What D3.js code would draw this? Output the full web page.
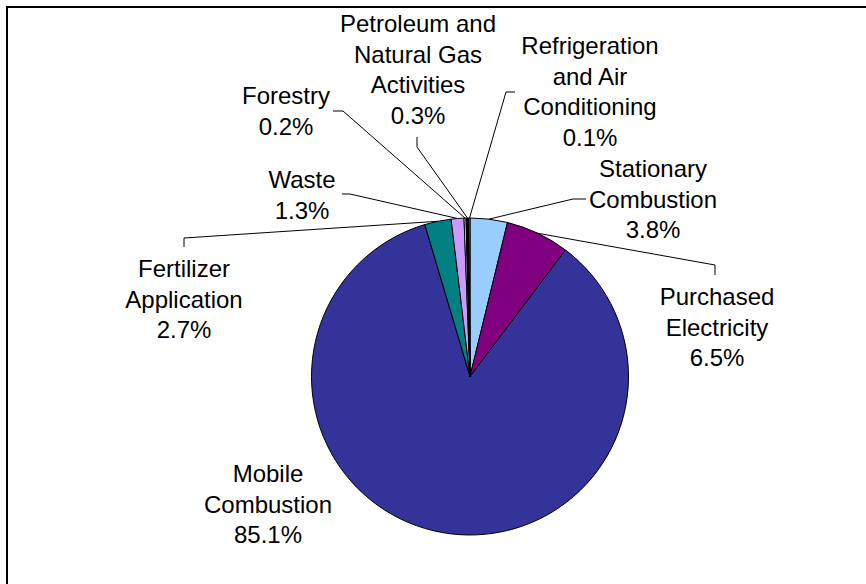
<!DOCTYPE html>
<html>
<head>
<meta charset="utf-8">
<script src="https://cdn.jsdelivr.net/npm/d3@7"></script>
<style>
  body { margin: 0; background: #fff; }
  svg text { font-family: "Liberation Sans", Arial, sans-serif; font-size: 24px; fill: #000; }
</style>
</head>
<body>
<div id="chart"></div>
<script>
// Data (clockwise from 12 o'clock)
const categories = [
  "Stationary Combustion",
  "Purchased Electricity",
  "Mobile Combustion",
  "Fertilizer Application",
  "Waste",
  "Forestry",
  "Petroleum and Natural Gas Activities",
  "Refrigeration and Air Conditioning"
];
const shares = [3.8, 6.5, 85.1, 2.7, 1.3, 0.2, 0.3, 0.1];
const labelLines = [
  ["Stationary", "Combustion"],
  ["Purchased", "Electricity"],
  ["Mobile", "Combustion"],
  ["Fertilizer", "Application"],
  ["Waste"],
  ["Forestry"],
  ["Petroleum and", "Natural Gas", "Activities"],
  ["Refrigeration", "and Air", "Conditioning"]
];
const sliceColors = ["#99CCFF", "#800080", "#333399", "#008080", "#CC99FF", "#FFFFFF", "#000000", "#FFFFFF"];

// Label placement (manual, like the original) : centre x, first baseline, leader tick
const labelLayout = [
  { x: 653, y: 177, tick: [586, 199, 573, 199] },
  { x: 717, y: 305, tick: [715, 275, 715, 265] },
  { x: 268, y: 482, tick: null },
  { x: 184, y: 277, tick: [184, 247, 184, 238] },
  { x: 302, y: 188, tick: [342, 194, 350, 194] },
  { x: 286, y: 104, tick: [333, 111, 343, 111] },
  { x: 418, y: 32,  tick: [417, 137, 417, 147] },
  { x: 590, y: 54,  tick: [515, 92, 506, 92] }
];

const width = 866, height = 584;
const cx = 470, cy = 376.5, radius = 158.5;
const lineGap = 30.6;

const data = categories.map((c, i) => ({ name: c, value: shares[i], lines: labelLines[i], color: sliceColors[i], layout: labelLayout[i] }));

const svg = d3.select("#chart").append("svg")
  .attr("width", width)
  .attr("height", height);

// frame (only top and left edges visible in the crop)
svg.append("path")
  .attr("d", `M7,${height} V7 H${width}`)
  .attr("fill", "none")
  .attr("stroke", "#000")
  .attr("stroke-width", 2);

const pie = d3.pie().sort(null).value(d => d.value);
const arcs = pie(data);

const arc = d3.arc().innerRadius(0).outerRadius(radius);
const edgeArc = d3.arc().innerRadius(radius).outerRadius(radius);

const g = svg.append("g").attr("transform", `translate(${cx},${cy})`);

g.selectAll(".slice")
  .data(arcs)
  .join("path")
  .attr("class", "slice")
  .attr("d", arc)
  .attr("fill", d => d.data.color)
  .attr("stroke", "#000")
  .attr("stroke-width", 1)
  .attr("stroke-linejoin", "round");

// leader lines
const leaders = svg.append("g").attr("class", "leaders");
arcs.forEach(d => {
  const t = d.data.layout.tick;
  if (!t) return;
  const [ex, ey] = edgeArc.centroid(d);
  leaders.append("polyline")
    .attr("points", `${t[0]},${t[1]} ${t[2]},${t[3]} ${cx + ex},${cy + ey}`)
    .attr("fill", "none")
    .attr("stroke", "#000")
    .attr("stroke-width", 1);
});

// labels
const labels = svg.append("g").attr("class", "labels");
arcs.forEach(d => {
  const lay = d.data.layout;
  const text = labels.append("text")
    .attr("text-anchor", "middle")
    .attr("x", lay.x)
    .attr("y", lay.y);
  const rows = d.data.lines.concat([d.data.value.toFixed(1) + "%"]);
  rows.forEach((r, i) => {
    text.append("tspan")
      .attr("x", lay.x)
      .attr("y", lay.y + i * lineGap)
      .text(r);
  });
});
</script>
</body>
</html>
